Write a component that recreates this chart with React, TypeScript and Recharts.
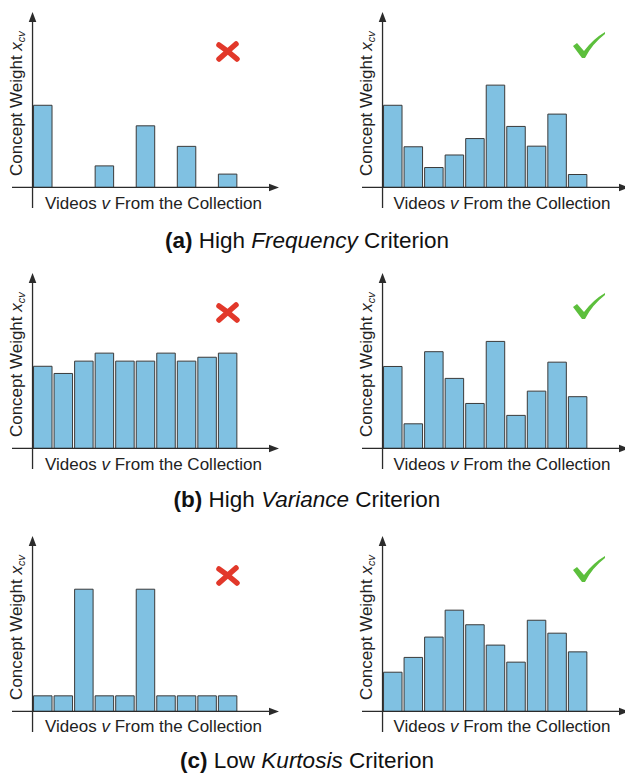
import React from 'react';
import { BarChart, Bar, XAxis, YAxis, ReferenceLine } from 'recharts';

// Ten videos of the collection (one bar slot each)
const videos = ['v1', 'v2', 'v3', 'v4', 'v5', 'v6', 'v7', 'v8', 'v9', 'v10'];

// Concept weights x_cv (arbitrary units)
const freqBad = [4.0, null, null, 1.05, null, 3.0, null, 2.0, null, 0.65];
const freqGood = [4.0, 1.98, 0.97, 1.58, 2.38, 4.98, 2.97, 2.01, 3.57, 0.63];
const varBad = [4.0, 3.65, 4.25, 4.64, 4.25, 4.25, 4.64, 4.25, 4.44, 4.64];
const varGood = [3.99, 1.2, 4.71, 3.41, 2.19, 5.21, 1.61, 2.79, 4.2, 2.52];
const kurtBad = [0.76, 0.76, 5.95, 0.76, 0.76, 5.95, 0.76, 0.76, 0.76, 0.76];
const kurtGood = [1.91, 2.63, 3.62, 4.93, 4.22, 3.23, 2.4, 4.44, 3.81, 2.9];

const captions = [
  { tag: '(a)', word: 'Frequency', adj: 'High' },
  { tag: '(b)', word: 'Variance', adj: 'High' },
  { tag: '(c)', word: 'Kurtosis', adj: 'Low' },
];

const xLabelText = ['Videos ', 'v', ' From the Collection'];
const yLabelText = ['Concept Weight ', 'x', 'cv'];

const FONT = '"Liberation Sans", Arial, Helvetica, sans-serif';
const AXIS = '#2b2b2b';
const BAR_FILL = '#80c1e2';
const BAR_STROKE = '#3a3a3a';

const CW = 267;
const CH = 196;
const UNIT = CW / 13;

const HAxis = (p: any) => {
  const xa = Math.min(p.x1, p.x2);
  const xb = Math.max(p.x1, p.x2);
  const y = p.y1;
  return (
    <g>
      <line x1={xa} y1={y} x2={xb - 5} y2={y} stroke={AXIS} strokeWidth={1.3} />
      <polygon points={`${xb},${y} ${xb - 10},${y - 3.8} ${xb - 10},${y + 3.8}`} fill={AXIS} />
    </g>
  );
};

const VAxis = (p: any) => {
  const ya = Math.min(p.y1, p.y2);
  const yb = Math.max(p.y1, p.y2);
  const x = p.x1;
  return (
    <g>
      <line x1={x} y1={ya + 5} x2={x} y2={yb} stroke={AXIS} strokeWidth={1.3} />
      <polygon points={`${x},${ya} ${x - 3.8},${ya + 10} ${x + 3.8},${ya + 10}`} fill={AXIS} />
    </g>
  );
};

function Panel({ left, top, values }: { left: number; top: number; values: (number | null)[] }) {
  const data = videos.map((name, i) => ({ name, pos: i + 0.5, v: values[i] }));
  return (
    <div style={{ position: 'absolute', left, top, width: CW, height: CH }}>
      <BarChart width={CW} height={CH} data={data} margin={{ top: 0, right: 0, bottom: 0, left: 0 }} barCategoryGap={0} barGap={0}>
        <XAxis hide type="number" dataKey="pos" domain={[-1, 12]} allowDataOverflow />
        <YAxis hide type="number" domain={[-1, 8.54]} allowDataOverflow />
        <Bar dataKey="v" fill={BAR_FILL} stroke={BAR_STROKE} strokeWidth={1} barSize={UNIT} isAnimationActive={false} />
        <ReferenceLine y={0} shape={HAxis} ifOverflow="visible" />
        <ReferenceLine x={0} shape={VAxis} ifOverflow="visible" />
      </BarChart>
    </div>
  );
}

const Cross = ({ cx, cy }: { cx: number; cy: number }) => (
  <g stroke="#e2382a" strokeWidth={5.5} strokeLinecap="round" fill="none">
    <path d={`M${cx - 9},${cy - 7} Q${cx},${cy - 1} ${cx + 9},${cy + 7}`} />
    <path d={`M${cx + 8},${cy - 8} Q${cx},${cy - 1} ${cx - 9},${cy + 7}`} />
  </g>
);

const Check = ({ cx, cy }: { cx: number; cy: number }) => (
  <path
    d={`M${cx - 16},${cy + 1} L${cx - 12},${cy - 2} L${cx - 5},${cy + 6} Q${cx + 4},${cy - 6} ${cx + 16},${cy - 13} L${cx + 16},${cy - 11} Q${cx + 3},${cy - 1} ${cx - 4},${cy + 13} L${cx - 7},${cy + 13} Z`}
    fill="#5cbf3c"
  />
);

const rows = [
  { top: 12, base: 187.5, bad: freqBad, good: freqGood, capY: 248 },
  { top: 273, base: 448.6, bad: varBad, good: varGood, capY: 507 },
  { top: 536, base: 711.4, bad: kurtBad, good: kurtGood, capY: 768 },
];

const COLS = [
  { chartLeft: 12, axisX: 32.5, yLabX: 21.5, xLabX: 45, iconX: 228 },
  { chartLeft: 362, axisX: 382.5, yLabX: 371.5, xLabX: 393.5, iconX: 589 },
];

export default function App() {
  return (
    <div style={{ position: 'fixed', left: 0, top: 0, width: 625, height: 777, overflow: 'hidden', background: '#fff' }}>
      {rows.map((r, ri) => (
        <React.Fragment key={ri}>
          <Panel left={COLS[0].chartLeft} top={r.top} values={r.bad} />
          <Panel left={COLS[1].chartLeft} top={r.top} values={r.good} />
        </React.Fragment>
      ))}
      <svg width={625} height={777} style={{ position: 'absolute', left: 0, top: 0, pointerEvents: 'none' }} fontFamily={FONT}>
        {rows.map((r, ri) => (
          <g key={ri}>
            {COLS.map((c, ci) => (
              <g key={ci}>
                <text transform={`translate(${c.yLabX},${r.base - 11.5}) rotate(-90)`} fontSize={17} fill="#222">
                  {yLabelText[0]}
                  <tspan fontStyle="italic">{yLabelText[1]}</tspan>
                  <tspan fontStyle="italic" fontSize={11} dy={3}>{yLabelText[2]}</tspan>
                </text>
                <text x={c.xLabX} y={r.base + 21} fontSize={17} fill="#222">
                  {xLabelText[0]}
                  <tspan fontStyle="italic">{xLabelText[1]}</tspan>
                  {xLabelText[2]}
                </text>
                {ci === 0 ? (
                  <Cross cx={c.iconX} cy={r.top + 40} />
                ) : (
                  <Check cx={c.iconX} cy={r.top + 33} />
                )}
              </g>
            ))}
            <text x={307} y={r.capY} fontSize={22.5} fill="#111" textAnchor="middle">
              <tspan fontWeight="bold">{captions[ri].tag}</tspan>
              {' ' + captions[ri].adj + ' '}
              <tspan fontStyle="italic">{captions[ri].word}</tspan>
              {' Criterion'}
            </text>
          </g>
        ))}
      </svg>
    </div>
  );
}
